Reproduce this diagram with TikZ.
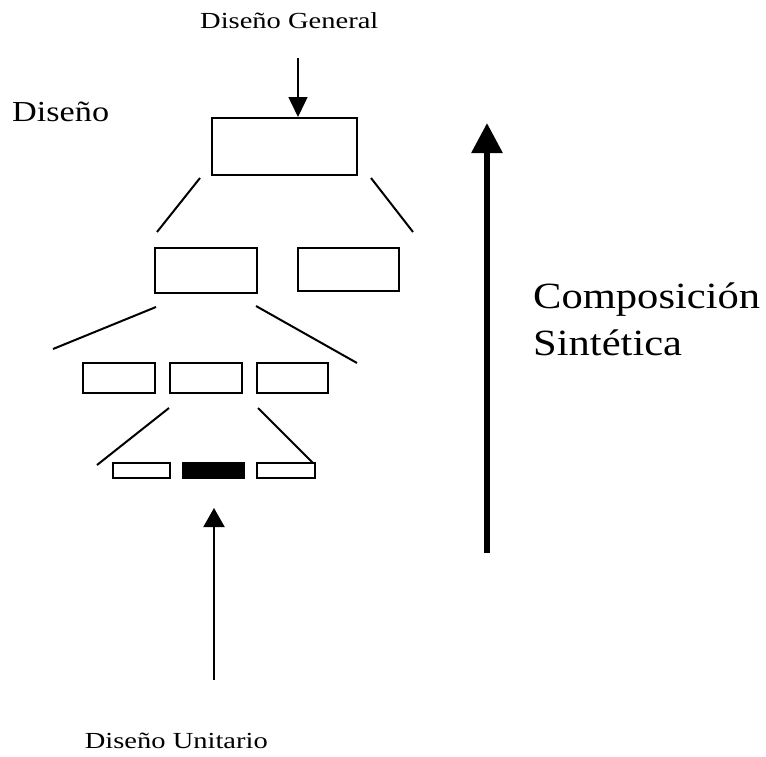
\documentclass[tikz,border=0pt]{standalone}
\usepackage{fontspec}
\setmainfont{Liberation Serif}
\usepackage{graphicx}
\usetikzlibrary{arrows.meta}
\tikzset{
  box/.style={draw=black, line width=2pt, fill=white, inner sep=0pt, minimum width=#1},
  conn/.style={draw=black, line width=2pt},
  lbl/.style={inner sep=0pt, text=black},
}
\newcommand{\smalltxt}[1]{\scalebox{1.24}[1]{\fontsize{23}{23}\selectfont #1}}
\begin{document}
\begin{tikzpicture}[x=1pt,y=-1pt]
\useasboundingbox (0,0) rectangle (766,756);
\fill[white] (0,0) rectangle (766,756);
% boxes
\node[box=145pt, minimum height=57pt] (top) at (284.5,146.5) {};
\node[box=102pt, minimum height=45pt] (l2a) at (206,270.5) {};
\node[box=101pt, minimum height=43pt] (l2b) at (348.5,269.5) {};
\node[box=72pt, minimum height=30pt] (l3a) at (119,378) {};
\node[box=72pt, minimum height=30pt] (l3b) at (206,378) {};
\node[box=71pt, minimum height=30pt] (l3c) at (292.5,378) {};
\node[box=57pt, minimum height=15pt] (l4a) at (141.5,470.5) {};
\node[box=61pt, minimum height=15pt, fill=black] (l4b) at (213.5,470.5) {};
\node[box=58pt, minimum height=15pt] (l4c) at (286,470.5) {};
% connector ends
\coordinate (t1) at (157,232);
\coordinate (t2) at (413,232);
\coordinate (a1) at (53,349);
\coordinate (a2) at (357,363);
\coordinate (b1) at (97,465);
\coordinate (b2) at (313,463);
\draw[conn] ([shift={(-11,2)}]top.south west) -- (t1);
\draw[conn] ([shift={(13,2)}]top.south east) -- (t2);
\draw[conn] ([shift={(2,13)}]l2a.south west) -- (a1);
\draw[conn] ([shift={(-2,12)}]l2a.south east) -- (a2);
\draw[conn] ([shift={(0,14)}]l3b.south west) -- (b1);
\draw[conn] ([shift={(15,14)}]l3b.south east) -- (b2);
% arrows
\coordinate (topin) at (298,58);
\draw[line width=1.5pt, -{Triangle[length=20pt,width=19pt]}] (topin) -- (topin |- top.north);
\coordinate (bigbot) at (487,553);
\coordinate (bigtop) at (487,123);
\draw[line width=6pt, -{Triangle[length=30pt,width=30pt]}] (bigbot) -- (bigtop);
\coordinate (botstart) at (214,680);
\coordinate (botend) at (214,508);
\draw[line width=2pt, -{Triangle[length=19pt,width=21pt]}] (botstart) -- (botend);
% texts
\node[lbl, anchor=base west] (tgen) at (200,28) {\smalltxt{Diseño General}};
\node[lbl, anchor=base east] (tuni) at (268,748) {\smalltxt{Diseño Unitario}};
\node[lbl, anchor=base west] (tdis) at (12,121) {\scalebox{1.18}[1]{\fontsize{29}{29}\selectfont Diseño}};
\node[lbl, anchor=base west] (tcomp) at (533,308) {\scalebox{1.15}[1]{\fontsize{37}{37}\selectfont Composición}};
\node[lbl, anchor=base west] (tsin) at (533,355) {\scalebox{1.15}[1]{\fontsize{37}{37}\selectfont Sintética}};
\end{tikzpicture}
\end{document}
